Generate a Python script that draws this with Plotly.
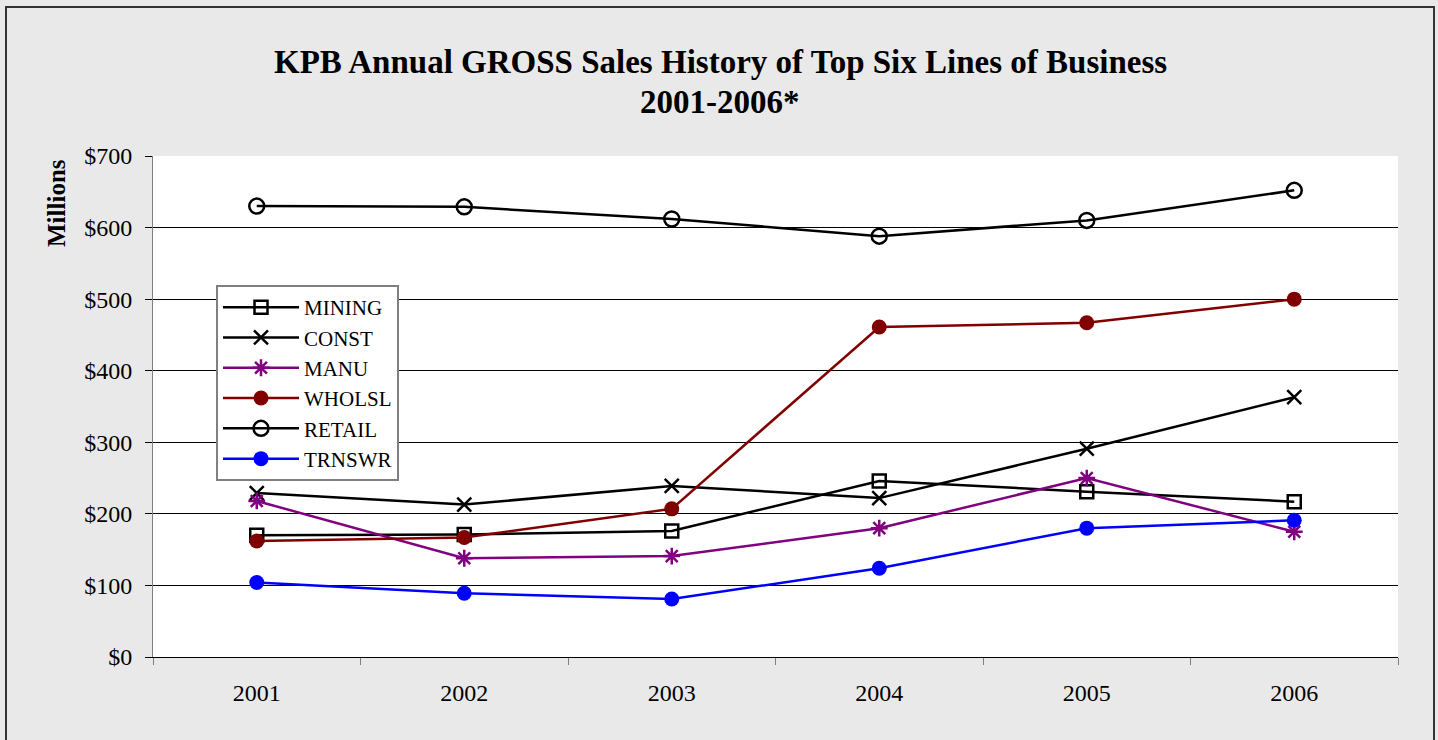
import plotly.graph_objects as go

years = ["2001", "2002", "2003", "2004", "2005", "2006"]
mining = [170, 171, 176, 246, 231, 217]
const = [229, 213, 239, 222, 291, 363]
manu = [218, 138, 141, 180, 250, 175]
wholsl = [162, 167, 207, 461, 467, 500]
retail = [630, 629, 612, 588, 610, 652]
trnswr = [104, 89, 81, 124, 180, 191]
y_ticks = [0, 100, 200, 300, 400, 500, 600, 700]
y_labels = ["$" + str(v) for v in y_ticks]

FONT = "Liberation Serif, Times New Roman, serif"

series = [
    ("MINING", mining, "black", dict(symbol="square-open", size=13, color="black", line=dict(width=2.5, color="black"))),
    ("CONST", const, "black", dict(symbol="x-thin-open", size=14, color="black", line=dict(width=2.5, color="black"))),
    ("MANU", manu, "#800080", dict(symbol="asterisk-open", size=14, color="#800080", line=dict(width=2.5, color="#800080"))),
    ("WHOLSL", wholsl, "#800000", dict(symbol="circle", size=15, color="#800000", line=dict(width=0))),
    ("RETAIL", retail, "black", dict(symbol="circle-open", size=15, color="black", line=dict(width=2.5, color="black"))),
    ("TRNSWR", trnswr, "#0000ff", dict(symbol="circle", size=15, color="#0000ff", line=dict(width=0))),
]

fig = go.Figure()
for name, vals, col, mk in series:
    fig.add_trace(go.Scatter(
        x=years, y=vals, name=name, mode="lines+markers",
        line=dict(color=col, width=2.5), marker=mk,
    ))

W, H = 1438, 740
L, R, T, B = 153, 40, 156, 83
pw, ph = W - L - R, H - T - B

def px_x(p):
    return (p - L) / pw

def px_y(p):
    return (H - B - p) / ph

fig.update_layout(
    width=W, height=H,
    margin=dict(l=L, r=R, t=T, b=B),
    paper_bgcolor="#e9e9e9",
    plot_bgcolor="white",
    font=dict(family=FONT, size=24, color="black"),
    showlegend=True,
    legend=dict(
        x=px_x(216), y=px_y(285), xanchor="left", yanchor="top",
        bgcolor="white", bordercolor="#808080", borderwidth=2,
        font=dict(family=FONT, size=21, color="black"),
        tracegroupgap=0, itemwidth=76,
    ),
    xaxis=dict(
        type="category", range=[-0.5, 5.5],
        showgrid=False, showline=True, linecolor="black", linewidth=1,
        ticks="outside", tickson="boundaries", ticklen=7, tickcolor="#808080",
        tickfont=dict(family=FONT, size=24, color="black"),
        zeroline=False, ticklabelstandoff=14,
    ),
    yaxis=dict(
        range=[0, 700], tickvals=y_ticks, ticktext=y_labels,
        showgrid=True, gridcolor="black", gridwidth=1,
        showline=True, linecolor="#808080", linewidth=1,
        ticks="outside", ticklen=7, tickcolor="black",
        tickfont=dict(family=FONT, size=24, color="black"),
        zeroline=False, ticklabelstandoff=8,
    ),
    annotations=[
        dict(
            text="<b>KPB Annual GROSS Sales History of Top Six Lines of Business</b>",
            x=px_x(720), y=px_y(62), xref="paper", yref="paper",
            xanchor="center", yanchor="middle", showarrow=False,
            font=dict(family=FONT, size=33, color="black"),
        ),
        dict(
            text="<b>2001-2006*</b>",
            x=px_x(720), y=px_y(102), xref="paper", yref="paper",
            xanchor="center", yanchor="middle", showarrow=False,
            font=dict(family=FONT, size=33, color="black"),
        ),
        dict(
            text="<b>Millions</b>", textangle=-90,
            x=px_x(56), y=px_y(203), xref="paper", yref="paper",
            xanchor="center", yanchor="middle", showarrow=False,
            font=dict(family=FONT, size=25, color="black"),
        ),
    ],
    shapes=[dict(
        type="rect", xref="paper", yref="paper",
        x0=px_x(6), x1=px_x(1434), y0=px_y(760), y1=px_y(7),
        line=dict(color="#333333", width=2), fillcolor="rgba(0,0,0,0)",
        layer="below",
    )],
)

fig.write_html(
    "out.html",
    config={"displayModeBar": False},
    post_script="document.body.style.margin='0';document.body.style.overflow='hidden';",
)
